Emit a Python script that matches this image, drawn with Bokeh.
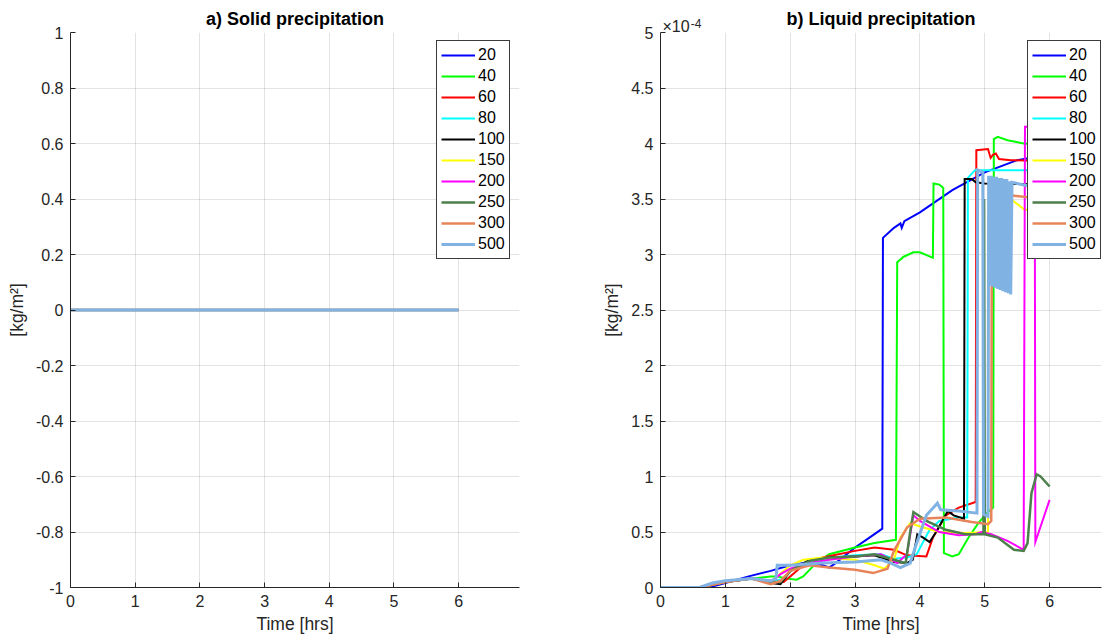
from bokeh.plotting import figure
from bokeh.layouts import row
from bokeh.models import (FixedTicker, CustomJSTickFormatter, Legend, LegendItem,
                          LinearAxis, Range1d)
from bokeh.embed import file_html
from bokeh.resources import INLINE

FONT = "Liberation Sans"
AX = "#262626"

# ---------------- data ----------------
series_labels = ["20", "40", "60", "80", "100", "150", "200", "250", "300", "500"]
series_colors = ["#0000ff", "#00ff00", "#ff0000", "#00ffff", "#000000",
                 "#ffff00", "#ff00ff", "#4c7f4c", "#e8845a", "#80b2e4"]

# a) solid precipitation: zero for every run
solid_t = [0, 6]
solid_v = [0, 0]

# b) liquid precipitation (units of 1e-4 kg/m^2)
t_20 = [0, 0.6, 0.8, 1.0, 1.36, 1.7, 2.0, 2.3, 2.5, 2.6, 2.7, 3.0, 3.2, 3.42, 3.43,
        3.6, 3.7, 3.72, 3.76, 4.0, 4.5, 5.0, 5.5, 6.0]
v_20 = [0, 0, 0.01, 0.04, 0.1, 0.15, 0.2, 0.23, 0.2, 0.18, 0.22, 0.36, 0.44, 0.53, 3.15,
        3.24, 3.28, 3.24, 3.3, 3.38, 3.58, 3.74, 3.85, 3.9]

t_40 = [0, 0.6, 1.0, 1.4, 1.7, 1.8, 1.95, 2.1, 2.2, 2.4, 2.6, 3.0, 3.3, 3.63, 3.65,
        3.75, 3.9, 4.0, 4.2, 4.21, 4.3, 4.36, 4.37, 4.5, 4.6, 4.75, 4.9, 5.05, 5.13,
        5.14, 5.2, 5.35, 5.6, 6.0]
v_40 = [0, 0, 0.05, 0.08, 0.1, 0.1, 0.08, 0.07, 0.1, 0.22, 0.3, 0.36, 0.4, 0.43, 2.93,
        2.98, 3.02, 3.02, 2.97, 3.64, 3.63, 3.6, 0.31, 0.28, 0.3, 0.45, 0.58, 0.68, 0.72,
        4.04, 4.06, 4.03, 4.0, 3.98]

t_60 = [0, 0.6, 1.0, 1.4, 1.7, 1.9, 2.0, 2.2, 2.5, 3.0, 3.3, 3.6, 3.8, 4.1, 4.2, 4.4,
        4.6, 4.86, 4.87, 5.05, 5.09, 5.13, 5.17, 5.22, 5.4, 6.0]
v_60 = [0, 0, 0.05, 0.08, 0.06, 0.05, 0.1, 0.2, 0.27, 0.33, 0.36, 0.34, 0.29, 0.28, 0.45,
        0.65, 0.72, 0.77, 3.94, 3.95, 3.87, 3.9, 3.91, 3.86, 3.85, 3.84]

t_80 = [0, 0.6, 1.0, 1.4, 1.7, 1.9, 2.1, 2.5, 3.0, 3.4, 3.6, 3.8, 3.95, 4.15, 4.3, 4.6,
        4.73, 4.74, 4.85, 5.2, 6.0]
v_80 = [0, 0, 0.05, 0.08, 0.05, 0.08, 0.2, 0.26, 0.29, 0.3, 0.26, 0.27, 0.3, 0.52, 0.6,
        0.63, 0.63, 3.69, 3.76, 3.76, 3.76]

t_100 = [0, 0.6, 1.0, 1.4, 1.7, 1.85, 2.0, 2.3, 2.6, 3.0, 3.3, 3.6, 3.8, 3.89, 3.96,
         4.05, 4.15, 4.25, 4.43, 4.52, 4.68, 4.69, 4.8, 4.86, 5.0, 6.0]
v_100 = [0, 0, 0.05, 0.08, 0.04, 0.03, 0.15, 0.25, 0.27, 0.28, 0.29, 0.23, 0.22, 0.25,
         0.48, 0.45, 0.41, 0.5, 0.69, 0.65, 0.62, 3.68, 3.68, 3.65, 3.64, 3.63]

t_150 = [0, 0.6, 1.0, 1.4, 1.7, 1.8, 2.0, 2.2, 2.5, 3.0, 3.3, 3.45, 3.6, 3.7, 3.85,
         4.0, 4.3, 4.7, 5.05, 5.06, 5.2, 5.4, 5.6, 6.0]
v_150 = [0, 0, 0.05, 0.08, 0.04, 0.1, 0.2, 0.25, 0.27, 0.25, 0.2, 0.17, 0.25, 0.45, 0.58,
         0.55, 0.5, 0.49, 0.5, 3.6, 3.56, 3.5, 3.41, 3.35]

t_200 = [0, 0.6, 1.0, 1.4, 1.7, 1.85, 2.0, 2.3, 2.6, 3.0, 3.4, 3.65, 3.8, 3.9, 4.0,
         4.3, 4.6, 4.85, 4.95, 5.1, 5.35, 5.6, 5.62, 5.77, 5.78, 6.0]
v_200 = [0, 0, 0.05, 0.08, 0.05, 0.12, 0.17, 0.22, 0.25, 0.28, 0.3, 0.22, 0.3, 0.65,
         0.6, 0.5, 0.47, 0.48, 0.5, 0.48, 0.42, 0.34, 4.15, 4.15, 0.41, 0.79]

t_250 = [0, 0.6, 1.0, 1.4, 1.7, 1.85, 2.0, 2.3, 2.6, 3.0, 3.3, 3.6, 3.78, 3.85, 3.9,
         3.95, 4.1, 4.4, 4.7, 4.98, 4.99, 5.0, 5.2, 5.45, 5.6, 5.66, 5.72, 5.8, 5.86, 6.0]
v_250 = [0, 0, 0.05, 0.08, 0.05, 0.05, 0.15, 0.24, 0.27, 0.28, 0.3, 0.25, 0.22, 0.5,
         0.68, 0.66, 0.6, 0.52, 0.48, 0.48, 3.5, 0.48, 0.45, 0.34, 0.33, 0.4, 0.85, 1.02,
         1.0, 0.91]

t_300 = [0, 0.6, 1.0, 1.4, 1.7, 1.85, 2.0, 2.3, 2.6, 3.0, 3.28, 3.5, 3.6, 3.8, 4.0,
         4.4, 4.8, 5.05, 5.1, 5.11, 5.3, 5.45, 5.6, 6.0]
v_300 = [0, 0, 0.05, 0.08, 0.03, 0.06, 0.15, 0.2, 0.18, 0.16, 0.13, 0.17, 0.33, 0.54,
         0.62, 0.63, 0.59, 0.57, 0.6, 3.58, 3.56, 3.53, 3.52, 3.5]

t_500 = [0, 0.6, 0.8, 1.0, 1.4, 1.7, 1.78, 1.8, 2.0, 2.5, 3.0, 3.4, 3.55, 3.7, 3.85,
         3.95, 4.1, 4.27, 4.32, 4.6, 4.88, 4.89, 4.97, 4.98, 5.05, 5.06,
         5.08, 5.10, 5.12, 5.14, 5.16, 5.18, 5.20, 5.22, 5.24, 5.26, 5.28, 5.30,
         5.32, 5.34, 5.36, 5.38, 5.40, 5.42, 5.66, 6.0]
v_500 = [0, 0, 0.04, 0.06, 0.08, 0.06, 0.08, 0.2, 0.2, 0.22, 0.23, 0.25, 0.22, 0.18,
         0.22, 0.4, 0.65, 0.76, 0.7, 0.69, 0.67, 3.76, 3.74, 0.66, 0.64, 3.71,
         2.72, 3.71, 2.71, 3.70, 2.70, 3.70, 2.69, 3.69, 2.68, 3.69, 2.67, 3.68,
         2.66, 3.68, 2.65, 3.66, 2.64, 3.65, 3.62, 3.6]

liquid_t = [t_20, t_40, t_60, t_80, t_100, t_150, t_200, t_250, t_300, t_500]
liquid_v = [v_20, v_40, v_60, v_80, v_100, v_150, v_200, v_250, v_300, v_500]
line_w = [2, 2, 2, 2, 2, 2, 2, 2.5, 2.5, 3]

x_ticks = [0, 1, 2, 3, 4, 5, 6]
solid_ticks = [-1, -0.8, -0.6, -0.4, -0.2, 0, 0.2, 0.4, 0.6, 0.8, 1]
liquid_ticks = [0, 0.5, 1, 1.5, 2, 2.5, 3, 3.5, 4, 4.5, 5]
# axis multiplier "x10^-4" of panel b: base text and exponent text
mult_base, mult_base_at = "\u00d710", 0.24
mult_exp, mult_exp_at = "-4", 0.55

fmt_code = "return tick.toString();"


def make_fig(title, width, left, right, xmax, ymin, ymax, yticks):
    p = figure(width=width, height=639, output_backend="svg", toolbar_location=None,
               x_range=Range1d(0, xmax), y_range=Range1d(ymin, ymax),
               min_border_left=left, min_border_right=right,
               min_border_top=32, min_border_bottom=52)
    p.outline_line_color = None
    p.background_fill_color = "white"
    p.border_fill_color = "white"
    p.title.text = title
    p.title.align = "center"
    p.title.text_font = FONT
    p.title.text_font_size = "18px"
    p.title.text_font_style = "bold"
    p.title.text_color = "#000000"
    p.title.standoff = 7
    for ax in (p.xaxis[0], p.yaxis[0]):
        ax.axis_line_color = AX
        ax.major_tick_line_color = AX
        ax.major_tick_in = 5
        ax.major_tick_out = 0
        ax.minor_tick_line_color = None
        ax.major_label_text_font = FONT
        ax.major_label_text_font_size = "16px"
        ax.major_label_text_color = AX
        ax.axis_label_text_font = FONT
        ax.axis_label_text_font_size = "17.5px"
        ax.axis_label_text_font_style = "normal"
        ax.axis_label_text_color = AX
        ax.formatter = CustomJSTickFormatter(code=fmt_code)
    p.xaxis.ticker = FixedTicker(ticks=x_ticks)
    p.yaxis.ticker = FixedTicker(ticks=yticks)
    p.xaxis.axis_label = "Time [hrs]"
    p.yaxis.axis_label = "[kg/m\u00b2]"
    p.xaxis.major_label_standoff = 7
    p.yaxis.major_label_standoff = 7
    p.xaxis.axis_label_standoff = 4
    p.yaxis.axis_label_standoff = 6
    p.grid.grid_line_color = AX
    p.grid.grid_line_alpha = 0.13
    return p


def add_legend(p, renderers, loc):
    items = [LegendItem(label=l, renderers=[r]) for l, r in zip(series_labels, renderers)]
    lg = Legend(items=items, location=loc, orientation="vertical",
                label_text_font=FONT, label_text_font_size="16px",
                label_text_color="#000000", glyph_width=34, glyph_height=20,
                label_height=20, label_width=27, label_standoff=3,
                spacing=1, padding=4, margin=0,
                border_line_color=AX, border_line_width=1, border_line_alpha=0.9,
                background_fill_color="white", background_fill_alpha=1)
    p.add_layout(lg)


def text_axis(tick, label, size, standoff, **kw):
    return LinearAxis(ticker=FixedTicker(ticks=[tick]),
                      major_label_overrides={tick: label},
                      axis_line_color=None, major_tick_line_color=None,
                      minor_tick_line_color=None, major_tick_in=0, major_tick_out=0,
                      major_label_standoff=standoff,
                      major_label_text_font=FONT, major_label_text_font_size=size,
                      major_label_text_color=AX, **kw)


# left panel
p1 = make_fig("a) Solid precipitation", 590, 70, 71, 6.94, -1, 1, solid_ticks)
r1 = []
for c, w in zip(series_colors, line_w):
    r1.append(p1.line(solid_t, solid_v, line_color=c, line_width=w))
add_legend(p1, r1, (366, 328))

# right panel
p2 = make_fig("", 513, 70, 2, 6.8, 0, 5, liquid_ticks)
r2 = []
for tt, vv, c, w in zip(liquid_t, liquid_v, series_colors, line_w):
    r2.append(p2.line(tt, vv, line_color=c, line_width=w, line_join="miter"))
add_legend(p2, r2, (367, 328))

# top text rows of the right panel: "x10" just above the frame, the raised
# exponent and the bold panel title on the row above it
base_axis = text_axis(mult_base_at, mult_base, "16px", -2)
exp_axis = text_axis(mult_exp_at, mult_exp, "12px", -13,
                     axis_label="b) Liquid precipitation", axis_label_standoff=-13,
                     axis_label_text_font=FONT, axis_label_text_font_size="18px",
                     axis_label_text_font_style="bold", axis_label_text_color="#000000")
p2.add_layout(base_axis, "above")
p2.add_layout(exp_axis, "above")

layout = row(p1, p2)
open("out.html", "w").write(file_html(layout, INLINE))
